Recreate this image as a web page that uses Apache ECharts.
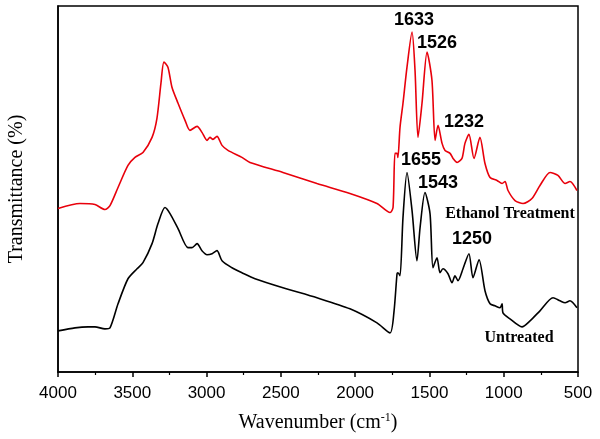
<!DOCTYPE html>
<html>
<head>
<meta charset="utf-8">
<script src="https://cdn.jsdelivr.net/npm/echarts@6/dist/echarts.min.js"></script>
<style>
  html, body { margin: 0; padding: 0; background: #fff; }
  #main { width: 600px; height: 439px; }
</style>
</head>
<body>
<div id="main"></div>
<script>
// wavenumber (cm-1) and transmittance (arbitrary units, offset traces)
var ethanolWave = [4000, 3852, 3751, 3684, 3650, 3596, 3529, 3482, 3428, 3367, 3334, 3307, 3287, 3260, 3233, 3192, 3145, 3112, 3064, 3031, 2997, 2977, 2957, 2930, 2896, 2856, 2762, 2708, 2486, 2257, 2035, 1853, 1765, 1745, 1732, 1718, 1712, 1698, 1678, 1651, 1617, 1597, 1577, 1550, 1516, 1483, 1462, 1442, 1415, 1395, 1361, 1341, 1314, 1281, 1261, 1234, 1200, 1160, 1126, 1092, 1045, 1011, 991, 971, 924, 870, 810, 756, 688, 635, 587, 554, 507];
var ethanolT = [163, 168, 167, 162, 166, 184, 206, 214, 219, 234, 253, 288, 309, 304, 284, 268, 251, 241, 245, 239, 231, 234, 232, 235, 226, 221, 214, 209, 199, 188, 178, 168, 159, 164, 218, 218, 214, 244, 268, 304, 339, 301, 234, 268, 319, 291, 231, 246, 228, 221, 218, 213, 209, 213, 228, 237, 213, 234, 208, 194, 191, 188, 190, 181, 171, 168, 173, 186, 199, 196, 188, 190, 181];

var untreatedWave = [4000, 3886, 3798, 3751, 3684, 3650, 3596, 3529, 3468, 3428, 3367, 3327, 3280, 3246, 3192, 3125, 3098, 3064, 3031, 2997, 2963, 2930, 2896, 2829, 2762, 2674, 2486, 2257, 2035, 1853, 1765, 1738, 1718, 1712, 1698, 1678, 1651, 1617, 1584, 1563, 1530, 1496, 1476, 1449, 1429, 1409, 1375, 1348, 1328, 1308, 1274, 1234, 1207, 1166, 1126, 1092, 1059, 1025, 1011, 1005, 958, 877, 823, 756, 668, 621, 587, 554, 507];
var untreatedT = [41, 44, 45, 45, 43, 44, 68, 93, 103, 109, 128, 148, 164, 158, 143, 124, 124, 128, 121, 117, 118, 121, 111, 104, 99, 93, 84, 74, 63, 49, 39, 61, 98, 99, 96, 154, 199, 161, 111, 144, 179, 158, 104, 114, 99, 103, 98, 89, 96, 91, 103, 118, 94, 112, 81, 68, 66, 64, 68, 59, 53, 45, 51, 61, 74, 71, 69, 71, 64];

var xTicks = [500, 1000, 1500, 2000, 2500, 3000, 3500, 4000];

// annotations: text, wavenumber, transmittance
var peakLabels = ['1633', '1526', '1232', '1655', '1543', '1250'];
var peakWave = [1604, 1449, 1267, 1557, 1442, 1213];
var peakT = [351, 328, 249, 211, 188, 133];
var traceLabels = ['Ethanol Treatment', 'Untreated'];
var traceWave = [958, 897];
var traceT = [158, 34];

function pairs(xs, ys) {
  return xs.map(function (x, i) { return [x, ys[i]]; });
}
function labelData(texts, xs, ys) {
  return texts.map(function (t, i) { return { name: t, value: [xs[i], ys[i]] }; });
}

var myChart = echarts.init(document.getElementById('main'));
var option = {
  backgroundColor: '#fff',
  animation: false,
  grid: {
    left: 58, right: 22, top: 6, bottom: 67,
    outerBoundsMode: 'none',
    show: true, borderColor: '#000', borderWidth: 1.5
  },
  xAxis: {
    type: 'value',
    inverse: true,
    min: xTicks[0],
    max: xTicks[xTicks.length - 1],
    interval: 500,
    name: 'Wavenumber (cm{sup|-1})',
    nameLocation: 'middle',
    nameGap: 40,
    nameTextStyle: {
      fontFamily: 'Liberation Serif', fontSize: 20, color: '#000',
      rich: { sup: { fontFamily: 'Liberation Serif', fontSize: 12, verticalAlign: 'top', padding: [0, 0, 10, 0] } }
    },
    axisLine: { lineStyle: { color: '#000', width: 1.5 } },
    axisTick: { inside: false, length: 5, lineStyle: { color: '#000', width: 1.5 } },
    minorTick: { show: true, splitNumber: 2, length: 3, lineStyle: { color: '#000', width: 1.2 } },
    axisLabel: {
      fontFamily: 'Liberation Sans', fontSize: 17, color: '#000', margin: 13,
      formatter: function (v) { return String(v); }
    },
    splitLine: { show: false }
  },
  yAxis: {
    type: 'value',
    min: 0, max: 365,
    name: 'Transmittance (%)',
    nameLocation: 'middle',
    nameGap: 31,
    nameTextStyle: { fontFamily: 'Liberation Serif', fontSize: 20, color: '#000' },
    axisLine: { show: true, lineStyle: { color: '#000', width: 1.5 } },
    axisTick: { show: false },
    axisLabel: { show: false },
    splitLine: { show: false }
  },
  series: [
    {
      name: 'Ethanol Treatment',
      type: 'line',
      data: pairs(ethanolWave, ethanolT),
      showSymbol: false,
      smooth: 0.25,
      lineStyle: { color: '#e8000b', width: 1.6 }
    },
    {
      name: 'Untreated',
      type: 'line',
      data: pairs(untreatedWave, untreatedT),
      showSymbol: false,
      smooth: 0.25,
      lineStyle: { color: '#000', width: 1.6 }
    },
    {
      name: 'peaks',
      type: 'scatter',
      symbolSize: 0,
      itemStyle: { opacity: 1 },
      data: labelData(peakLabels, peakWave, peakT),
      label: {
        show: true, position: 'inside', formatter: '{b}',
        fontFamily: 'Liberation Sans', fontWeight: 'bold', fontSize: 18, color: '#000'
      }
    },
    {
      name: 'traces',
      type: 'scatter',
      symbolSize: 0,
      itemStyle: { opacity: 1 },
      data: labelData(traceLabels, traceWave, traceT),
      label: {
        show: true, position: 'inside', formatter: '{b}',
        fontFamily: 'Liberation Serif', fontWeight: 'bold', fontSize: 16, color: '#000'
      }
    }
  ]
};
myChart.setOption(option);
</script>
</body>
</html>
